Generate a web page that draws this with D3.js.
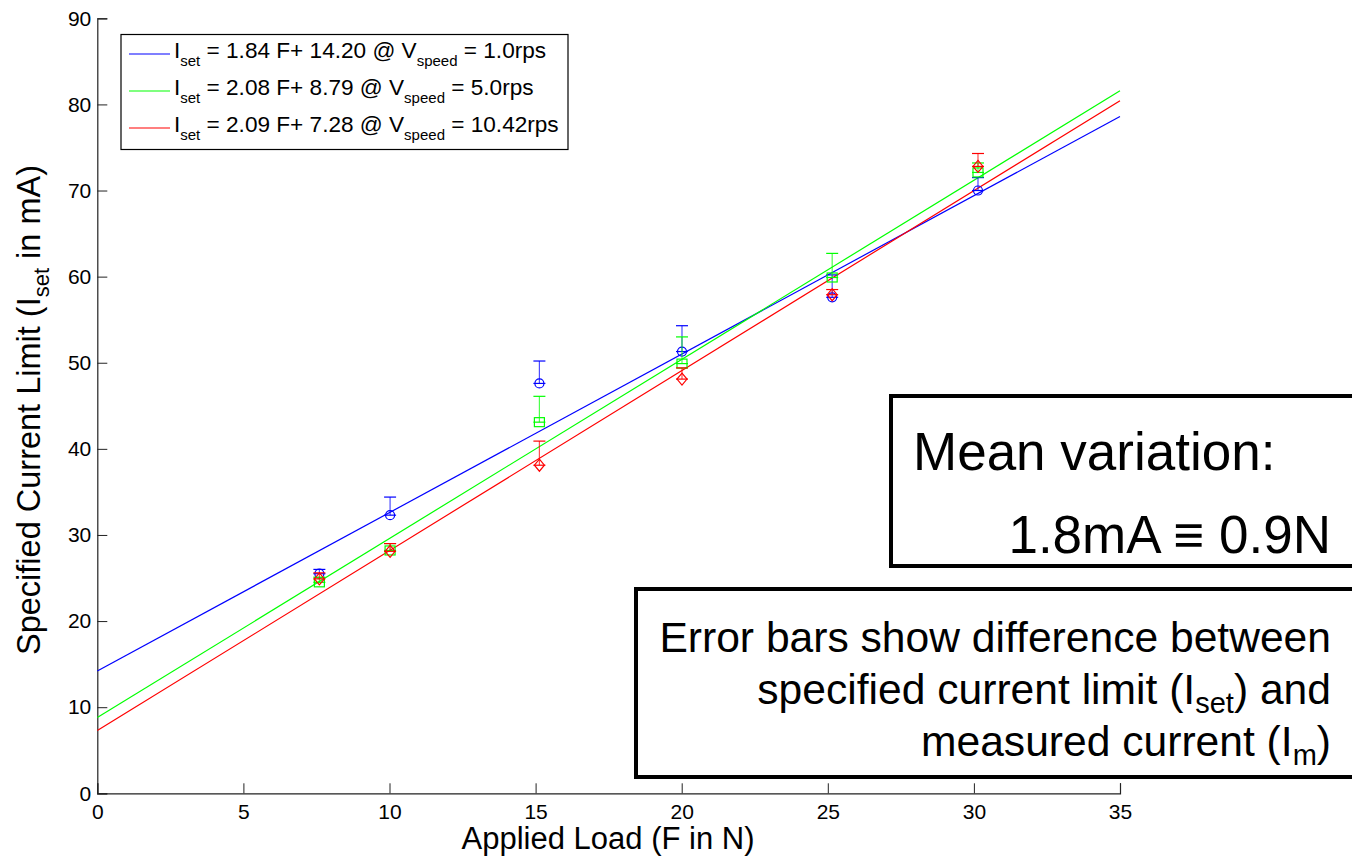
<!DOCTYPE html>
<html><head><meta charset="utf-8">
<script src="https://cdn.jsdelivr.net/npm/d3@7"></script>
<style>body{margin:0;background:#fff}svg{display:block;font-family:Arial,"Liberation Sans",sans-serif}</style>
</head><body><svg id="c" width="1352" height="857"></svg>
<script>
// ---- data ----
const loads = [7.6, 10.02, 15.13, 20.01, 25.15, 30.14];
const blueVals  = [25.5, 32.3, 47.6, 51.3, 57.6, 70.0];
const blueUp    = [0.5, 2.1, 2.6, 3.0, 2.6, 1.5];
const greenVals = [24.5, 28.2, 43.1, 49.9, 59.9, 72.1];
const greenUp   = [0.6, 0.8, 3.0, 3.1, 2.8, 1.1];
const redVals   = [24.9, 28.1, 38.1, 48.1, 57.9, 72.8];
const redUp     = [0.7, 0.9, 2.8, 1.3, 0.6, 1.5];
const slopes = [1.84, 2.08, 2.09];
const intercepts = [14.20, 8.79, 7.28];
const speeds = ["1.0rps", "5.0rps", "10.42rps"];
const xTicks = [0,5,10,15,20,25,30,35];
const yTicks = [0,10,20,30,40,50,60,70,80,90];
const colors = ["#0000ff", "#00ff00", "#ff0000"];
const markers = ["circle", "square", "diamond"];

const svg = d3.select("#c");
const x = d3.scaleLinear().domain([0,35]).range([97.3,1120]);
const y = d3.scaleLinear().domain([0,90]).range([793.3,18.3]);

const series = [
  {vals: blueVals, up: blueUp},
  {vals: greenVals, up: greenUp},
  {vals: redVals, up: redUp}
];

// axes
const xAxis = svg.append("g").attr("transform", `translate(0,${y(0)})`)
  .call(d3.axisBottom(x).tickValues(xTicks).tickSize(-10).tickPadding(11).tickFormat(d3.format("d")));
const yAxis = svg.append("g").attr("transform", `translate(${x(0)},0)`)
  .call(d3.axisLeft(y).tickValues(yTicks).tickSize(-10).tickPadding(6).tickFormat(d3.format("d")));
[xAxis, yAxis].forEach(a => {
  a.select(".domain").attr("stroke", "#222").attr("stroke-width", 1.2);
  a.selectAll(".tick line").attr("stroke", "#222");
  a.selectAll(".tick text").attr("font-size", 21).attr("fill", "#000").attr("font-family", "Arial, 'Liberation Sans', sans-serif");
});

// fit lines
const fitG = svg.append("g");
slopes.forEach((m, i) => {
  fitG.append("line")
    .attr("x1", x(0)).attr("y1", y(intercepts[i]))
    .attr("x2", x(35)).attr("y2", y(m*35 + intercepts[i]))
    .attr("stroke", colors[i]).attr("stroke-width", 1.2);
});

// error bars + markers
series.forEach((s, i) => {
  const g = svg.append("g").attr("stroke", colors[i]).attr("fill", "none").attr("stroke-width", 1.2);
  loads.forEach((f, j) => {
    const cx = x(f), cy = y(s.vals[j]), ty = y(s.vals[j] + s.up[j]);
    g.append("line").attr("x1", cx).attr("x2", cx).attr("y1", cy).attr("y2", ty).attr("stroke-opacity", 0.7);
    g.append("line").attr("x1", cx-6).attr("x2", cx+6).attr("y1", ty).attr("y2", ty);
    g.append("line").attr("x1", cx-6).attr("x2", cx+6).attr("y1", cy).attr("y2", cy);
    if (markers[i] === "circle") {
      g.append("circle").attr("cx", cx).attr("cy", cy).attr("r", 4.5);
    } else if (markers[i] === "square") {
      g.append("rect").attr("x", cx-5).attr("y", cy-4.5).attr("width", 10).attr("height", 9);
    } else {
      g.append("path").attr("d", `M${cx},${cy-6}L${cx+5},${cy}L${cx},${cy+6}L${cx-5},${cy}Z`);
    }
  });
});

// legend
const lg = svg.append("g");
lg.append("rect").attr("x", 121).attr("y", 34.5).attr("width", 447).attr("height", 115)
  .attr("fill", "#fff").attr("stroke", "#000").attr("stroke-width", 1.2);
const rowBase = [58, 95, 132];
slopes.forEach((m, i) => {
  const b = rowBase[i];
  lg.append("line").attr("x1", 129).attr("x2", 170).attr("y1", b-4).attr("y2", b-4)
    .attr("stroke", colors[i]).attr("stroke-width", 1.2);
  const t = lg.append("text").attr("x", 174).attr("y", b).attr("font-size", 22.6).attr("fill", "#000");
  t.append("tspan").text("I");
  t.append("tspan").attr("font-size", 15).attr("dy", 8).text("set");
  t.append("tspan").attr("dy", -8).text(` = ${m.toFixed(2)} F+ ${intercepts[i].toFixed(2)} @ V`);
  t.append("tspan").attr("font-size", 15).attr("dy", 8).text("speed");
  t.append("tspan").attr("dy", -8).text(` = ${speeds[i]}`);
});

// annotation boxes
svg.append("rect").attr("x", 891).attr("y", 396).attr("width", 480).attr("height", 170)
  .attr("fill", "#fff").attr("stroke", "#000").attr("stroke-width", 4);
svg.append("text").attr("x", 913).attr("y", 470).attr("font-size", 53).text("Mean variation:");
svg.append("text").attr("x", 1331).attr("y", 553).attr("font-size", 53).attr("text-anchor", "end").text("1.8mA \u2261 0.9N");

svg.append("rect").attr("x", 636).attr("y", 589).attr("width", 740).attr("height", 188)
  .attr("fill", "#fff").attr("stroke", "#000").attr("stroke-width", 4);
const t1 = svg.append("text").attr("x", 1331).attr("y", 652).attr("font-size", 42.6).attr("text-anchor", "end");
t1.text("Error bars show difference between");
const t2 = svg.append("text").attr("x", 1331).attr("y", 704).attr("font-size", 42.6).attr("text-anchor", "end");
t2.append("tspan").text("specified current limit (I");
t2.append("tspan").attr("font-size", 29).attr("dy", 9).text("set");
t2.append("tspan").attr("dy", -9).text(") and");
const t3 = svg.append("text").attr("x", 1331).attr("y", 756).attr("font-size", 42.6).attr("text-anchor", "end");
t3.append("tspan").text("measured current (I");
t3.append("tspan").attr("font-size", 29).attr("dy", 9).text("m");
t3.append("tspan").attr("dy", -9).text(")");

// axis labels
svg.append("text").attr("x", 608).attr("y", 849).attr("font-size", 31).attr("text-anchor", "middle").text("Applied Load (F in N)");
const yl = svg.append("text").attr("transform", "translate(40,410) rotate(-90)").attr("font-size", 32.5).attr("text-anchor", "middle");
yl.append("tspan").text("Specified Current Limit (I");
yl.append("tspan").attr("font-size", 22).attr("dy", 9).text("set");
yl.append("tspan").attr("dy", -9).text(" in mA)");
</script></body></html>
